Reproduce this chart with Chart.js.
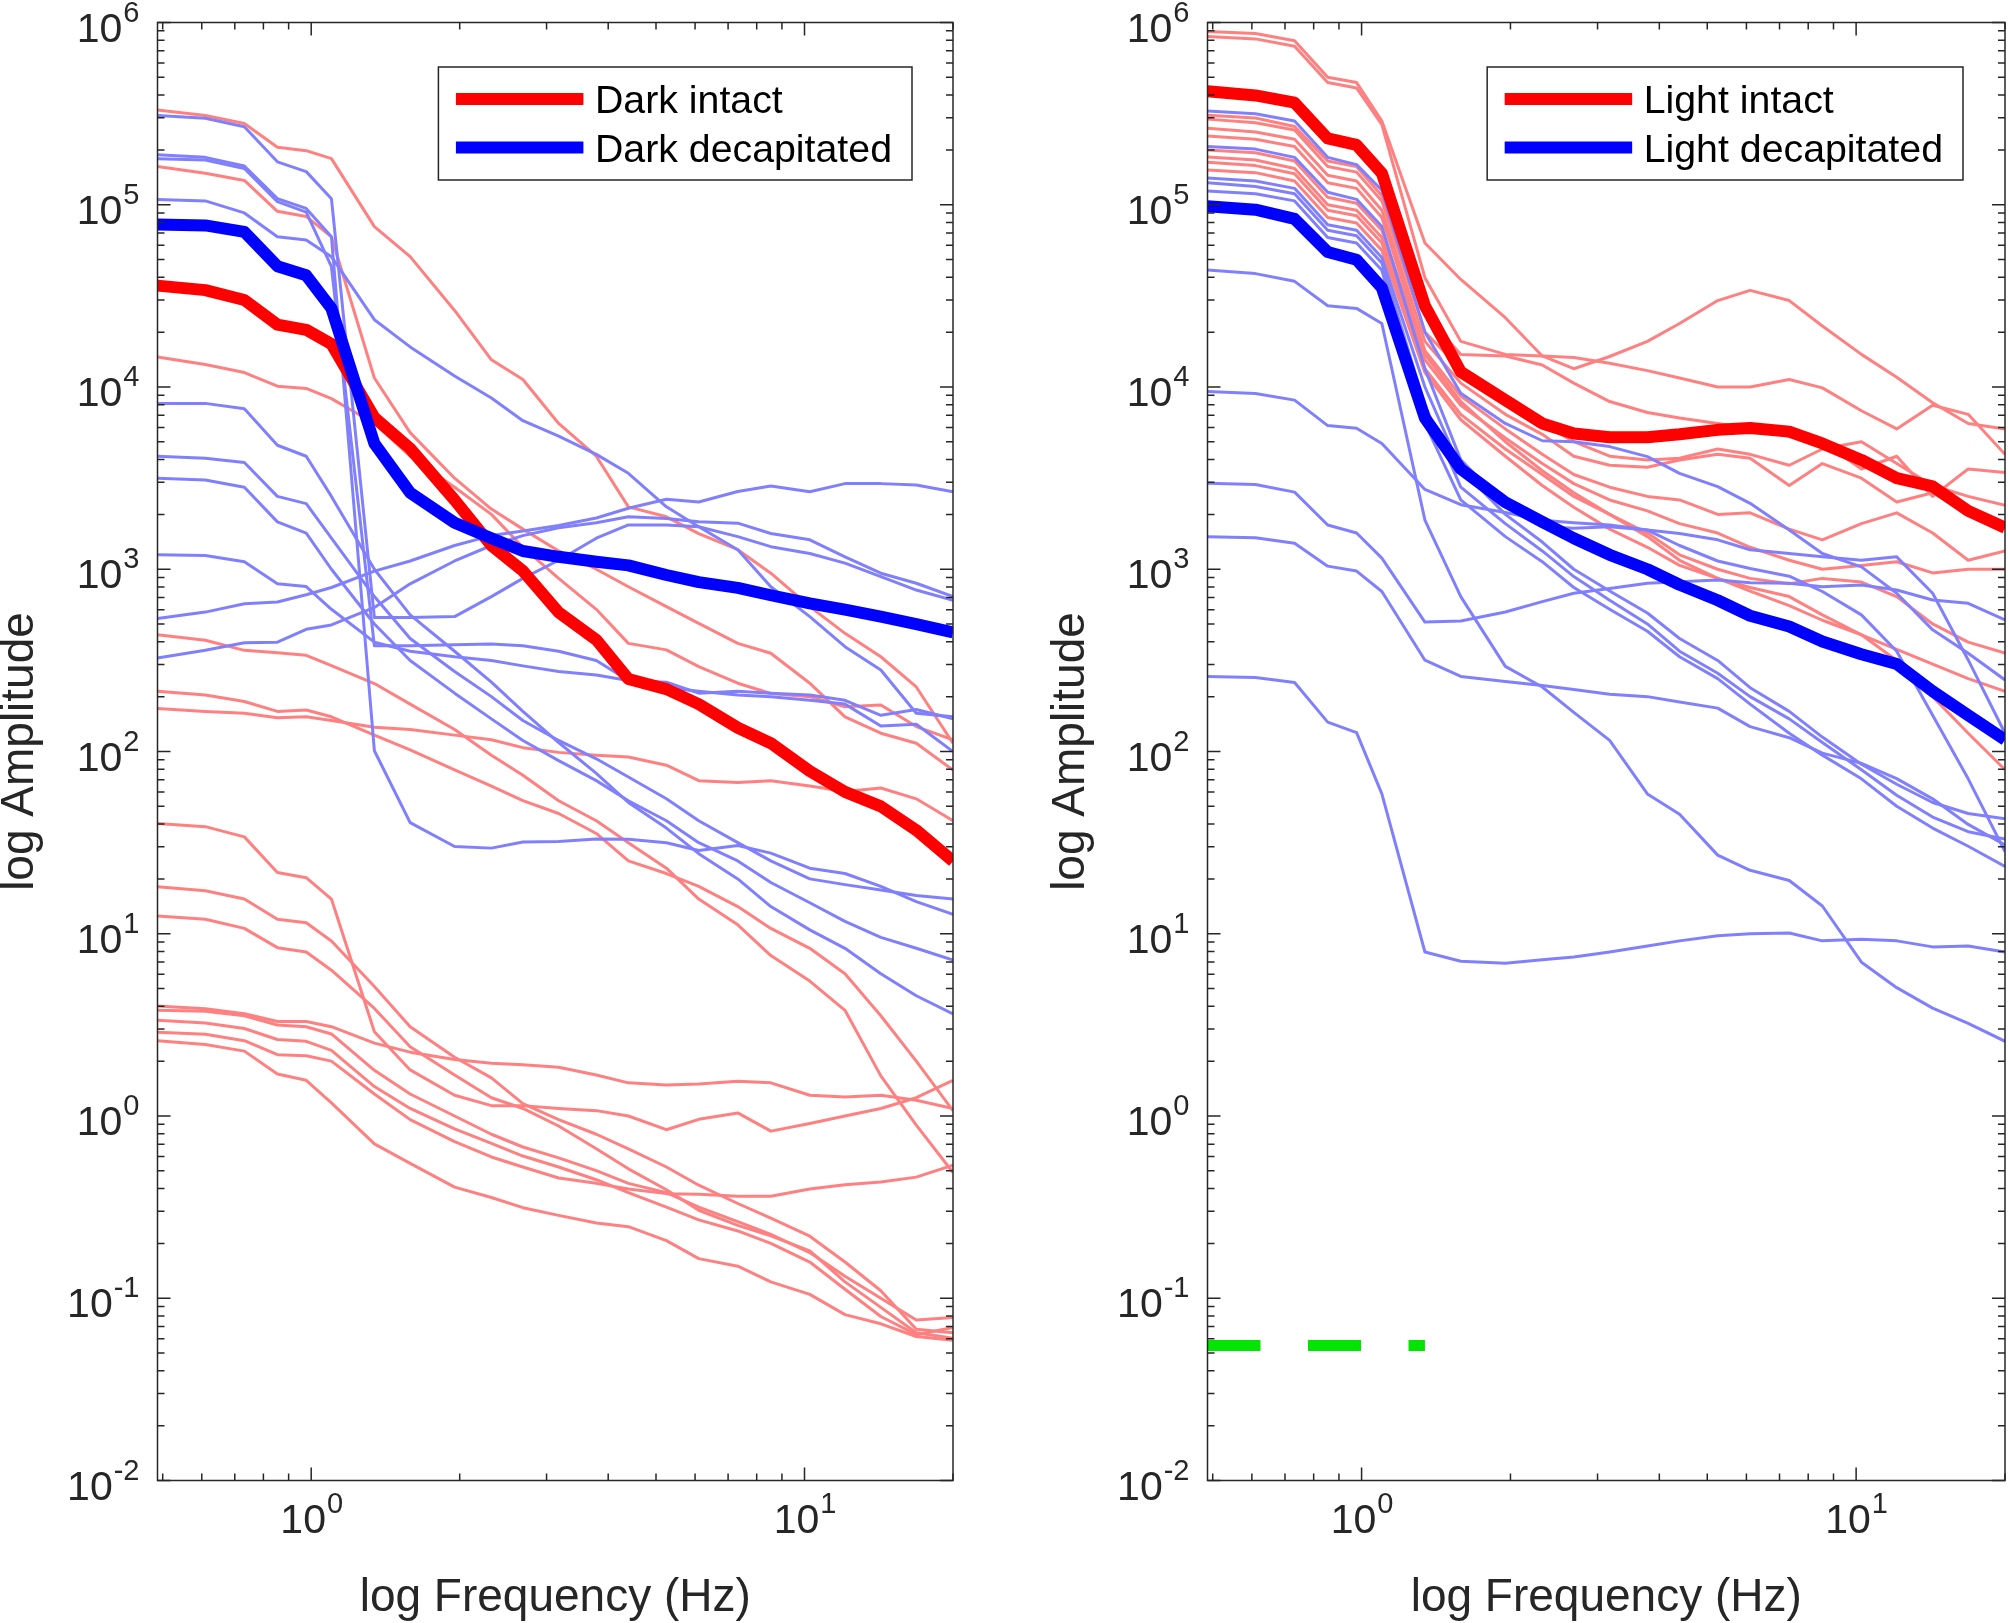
<!DOCTYPE html>
<html>
<head>
<meta charset="utf-8">
<title>Amplitude spectra, dark vs light</title>
<script src="https://cdn.jsdelivr.net/npm/chart.js@4.4.1/dist/chart.umd.min.js"></script>
<style>
  html, body { margin: 0; padding: 0; background: #fff; }
  #wrap { position: relative; width: 2008px; height: 1623px; overflow: hidden; }
  canvas { position: absolute; top: 0; }
  #darkChart { left: -10px; }
  #lightChart { left: 1041px; }
</style>
</head>
<body>
<div id="wrap">
  <canvas id="darkChart" width="1014" height="1623"></canvas>
  <canvas id="lightChart" width="967" height="1623"></canvas>
</div>
<script>
"use strict";

// frequency bins (Hz), shared by every trace
const freqs = [0.488, 0.61, 0.732, 0.854, 0.977, 1.099, 1.343, 1.587, 1.953, 2.319, 2.686, 3.174, 3.784, 4.395, 5.249, 6.104, 7.324, 8.545, 10.25, 12.08, 14.28, 16.85, 20];

// tick values (labels are drawn as 10^n)
const xMajorTicks = [1, 10];
const yMajorTicks = [0.01, 0.1, 1, 10, 100, 1000, 10000, 100000, 1000000];
const minorSteps = [2, 3, 4, 5, 6, 7, 8, 9];

// ---- dark, means
const darkIntactMean = [36000, 34000, 30000, 22000, 20600, 17200, 6800, 4600, 2400, 1350, 980, 580, 410, 250, 220, 182, 135, 111, 78, 60, 50, 37, 25];
const darkDecapMean = [78000, 77000, 71000, 46000, 41000, 27000, 4900, 2630, 1800, 1480, 1260, 1170, 1100, 1050, 930, 850, 790, 720, 650, 600, 550, 500, 450];

// ---- dark intact, single animals
const darkIntact01 = [331000, 309000, 279000, 207000, 198000, 179000, 75900, 51900, 26300, 14100, 11000, 6310, 4170, 2200, 1940, 1570, 1280, 951, 624, 445, 331, 226, 111];
const darkIntact02 = [162000, 149000, 136000, 92000, 86300, 66700, 11200, 5620, 3160, 2140, 1660, 1260, 1000, 802, 624, 505, 392, 346, 237, 155, 126, 111, 79];
const darkIntact03 = [14600, 13300, 12000, 10100, 9820, 8630, 6310, 4170, 2820, 2000, 1320, 891, 603, 392, 361, 292, 237, 208, 200, 176, 180, 137, 116];
const darkIntact04 = [437, 408, 359, 348, 337, 296, 236, 182, 132, 95.5, 74.1, 53.7, 41.7, 31.6, 22.9, 15.5, 11.2, 7.59, 5.5, 3.8, 1.66, 0.891, 0.49];
const darkIntact05 = [214, 204, 188, 166, 169, 155, 123, 102, 79.4, 64.6, 53.7, 45.7, 35.5, 25.1, 21.4, 18.2, 14.1, 10.7, 8.32, 6.03, 3.55, 2.0, 1.07];
const darkIntact06 = [172, 166, 162, 153, 155, 148, 136, 132, 123, 116, 105, 98.9, 95.5, 93.3, 84.1, 69.2, 67.6, 69.2, 64.6, 60.3, 63.1, 55.0, 41.7];
const darkIntact07 = [40.3, 38.7, 34.0, 21.7, 20.3, 15.5, 2.9, 1.79, 1.3, 1.14, 1.14, 1.1, 1.07, 1.0, 0.841, 0.959, 1.04, 0.826, 0.91, 1.0, 1.1, 1.26, 1.57];
const darkIntact08 = [18.1, 17.2, 15.5, 12.0, 11.5, 9.12, 5.13, 3.09, 2.1, 1.62, 1.17, 0.955, 0.794, 0.661, 0.525, 0.417, 0.331, 0.275, 0.219, 0.158, 0.11, 0.0676, 0.0646];
const darkIntact09 = [12.5, 12.0, 10.7, 8.39, 7.94, 6.31, 3.89, 2.4, 1.68, 1.26, 1.1, 0.881, 0.661, 0.513, 0.394, 0.304, 0.251, 0.22, 0.182, 0.123, 0.0891, 0.0646, 0.0603];
const darkIntact10 = [4.01, 3.88, 3.64, 3.3, 3.3, 3.09, 2.51, 2.24, 2.04, 1.95, 1.91, 1.85, 1.68, 1.52, 1.48, 1.5, 1.55, 1.52, 1.3, 1.27, 1.3, 1.22, 1.1];
const darkIntact11 = [3.8, 3.76, 3.55, 3.16, 3.09, 2.82, 1.78, 1.32, 1.0, 0.794, 0.676, 0.589, 0.501, 0.427, 0.38, 0.316, 0.263, 0.224, 0.178, 0.132, 0.1, 0.0759, 0.0785];
const darkIntact12 = [3.35, 3.24, 3.02, 2.63, 2.57, 2.29, 1.45, 1.1, 0.851, 0.708, 0.603, 0.525, 0.447, 0.38, 0.316, 0.269, 0.234, 0.2, 0.158, 0.112, 0.0794, 0.0631, 0.0692];
const darkIntact13 = [2.88, 2.81, 2.59, 2.17, 2.14, 2.0, 1.32, 0.955, 0.724, 0.596, 0.525, 0.457, 0.427, 0.398, 0.375, 0.372, 0.363, 0.363, 0.398, 0.419, 0.434, 0.462, 0.537];
const darkIntact14 = [2.59, 2.47, 2.27, 1.7, 1.57, 1.18, 0.703, 0.55, 0.407, 0.357, 0.314, 0.285, 0.259, 0.247, 0.207, 0.165, 0.15, 0.123, 0.105, 0.0813, 0.0724, 0.0617, 0.0589];

// ---- dark decapitated, single animals
const darkDecap01 = [309000, 298000, 268000, 172000, 152000, 108000, 543, 543, 550, 708, 891, 1120, 1480, 1750, 1750, 1710, 1510, 1330, 1220, 1080, 910, 769, 676];
const darkDecap02 = [188000, 182000, 163000, 108000, 95500, 66800, 101, 40.7, 30.1, 29.5, 31.9, 32.1, 33.1, 33.0, 31.6, 28.6, 30.5, 27.7, 22.9, 21.4, 18.2, 15.0, 12.8];
const darkDecap03 = [179000, 176000, 158000, 104000, 91200, 45700, 380, 380, 385, 389, 380, 355, 316, 245, 240, 209, 214, 209, 204, 191, 158, 170, 151];
const darkDecap04 = [107000, 105000, 90200, 66700, 64000, 51900, 23400, 16600, 11500, 8710, 6530, 5370, 4270, 3360, 2200, 1710, 1280, 802, 550, 376, 280, 162, 155];
const darkDecap05 = [8130, 8130, 7590, 4790, 4170, 2510, 1000, 562, 355, 240, 166, 112, 75.9, 52.5, 38.0, 27.5, 20.0, 14.1, 10.5, 8.32, 6.03, 4.57, 3.63];
const darkDecap06 = [4170, 4070, 3850, 2510, 2290, 1480, 708, 417, 275, 200, 148, 115, 91.2, 72.4, 55.0, 41.7, 31.6, 25.1, 20.0, 18.6, 17.4, 16.2, 15.5];
const darkDecap07 = [3160, 3090, 2820, 1820, 1580, 1000, 501, 316, 209, 151, 115, 89.1, 69.2, 53.7, 41.7, 31.6, 25.1, 19.1, 14.8, 11.7, 9.55, 8.32, 7.16];
const darkDecap08 = [1200, 1190, 1100, 832, 804, 603, 398, 355, 331, 316, 295, 275, 263, 245, 224, 214, 204, 200, 191, 182, 138, 141, 100];
const darkDecap09 = [537, 582, 646, 661, 724, 794, 977, 1110, 1350, 1530, 1620, 1740, 1910, 2160, 2420, 2340, 2670, 2860, 2660, 2950, 2950, 2900, 2660];
const darkDecap10 = [326, 359, 395, 398, 468, 495, 617, 832, 1110, 1350, 1530, 1690, 1800, 1940, 1900, 1820, 1790, 1570, 1450, 1170, 951, 838, 708];

// ---- light, means
const lightIntactMean = [419000, 398000, 363000, 231000, 213000, 149000, 27900, 12100, 8470, 6310, 5560, 5300, 5300, 5500, 5820, 5960, 5690, 4900, 3980, 3160, 2850, 2090, 1690];
const lightDecapMean = [98200, 94000, 83600, 55000, 49900, 35000, 6760, 3550, 2330, 1820, 1480, 1200, 1000, 822, 676, 556, 485, 401, 342, 302, 214, 158, 116];

// ---- light intact, single animals
const lightIntact01 = [893000, 871000, 794000, 501000, 468000, 288000, 61700, 38900, 24000, 14800, 12600, 14700, 17800, 22300, 29800, 33900, 29800, 21600, 15100, 11300, 8200, 6310, 5890];
const lightIntact02 = [838000, 813000, 741000, 468000, 437000, 275000, 39800, 17800, 15100, 14800, 14500, 13500, 12300, 11200, 10000, 10000, 11000, 9890, 7410, 5890, 7940, 7080, 4270];
const lightIntact03 = [310000, 299000, 269000, 174000, 162000, 112000, 25100, 15100, 14800, 13200, 10500, 8320, 7240, 6760, 6310, 5890, 5370, 5010, 3550, 4170, 2510, 3550, 3390];
const lightIntact04 = [295000, 282000, 257000, 162000, 151000, 105000, 20000, 12600, 8320, 6310, 5010, 4170, 3980, 4070, 4570, 4270, 3720, 4570, 5010, 3800, 2880, 2510, 2240];
const lightIntact05 = [263000, 251000, 229000, 145000, 135000, 93300, 17800, 10500, 7080, 5500, 4170, 3720, 3630, 3980, 4270, 4070, 2880, 3800, 3160, 2340, 2630, 2000, 1760];
const lightIntact06 = [238000, 229000, 209000, 132000, 123000, 85100, 15800, 8910, 5890, 4270, 3310, 2820, 2510, 2400, 2000, 2040, 1660, 1450, 1780, 2040, 1580, 1120, 1260];
const lightIntact07 = [183000, 176000, 158000, 100000, 93300, 66100, 14100, 7940, 5250, 3800, 2950, 2400, 2090, 1780, 1580, 1320, 1120, 1000, 1050, 1100, 955, 1000, 1000];
const lightIntact08 = [171000, 164000, 148000, 93300, 87100, 61700, 12600, 7080, 4570, 3310, 2510, 2000, 1580, 1200, 1000, 891, 832, 891, 851, 708, 501, 398, 347];
const lightIntact09 = [200000, 193000, 174000, 110000, 102000, 72400, 15100, 8320, 5010, 3470, 2630, 2000, 1510, 1120, 891, 759, 631, 525, 437, 363, 302, 251, 214];
const lightIntact10 = [155000, 150000, 135000, 85100, 79400, 56200, 12000, 6610, 4170, 2880, 2190, 1660, 1320, 1050, 891, 794, 708, 562, 437, 316, 200, 126, 79.4];

// ---- light decapitated, single animals
const lightDecap01 = [327000, 316000, 288000, 182000, 166000, 120000, 20000, 9230, 6310, 5070, 5010, 4710, 4150, 3360, 2840, 2300, 1640, 1220, 1030, 738, 465, 346, 247];
const lightDecap02 = [209000, 202000, 182000, 117000, 107000, 75900, 12600, 3980, 2240, 1710, 1680, 1710, 1640, 1570, 1450, 1280, 1220, 1170, 1120, 1170, 738, 318, 126];
const lightDecap03 = [140000, 135000, 123000, 77600, 72400, 51300, 10000, 3550, 2000, 1410, 1000, 759, 575, 417, 316, 224, 166, 120, 85.1, 66.1, 52.5, 45.7, 42.7];
const lightDecap04 = [132000, 126000, 115000, 72400, 67600, 47900, 7940, 2820, 1780, 1260, 912, 676, 501, 355, 269, 200, 151, 112, 79.4, 57.5, 43.7, 36.3, 33.1];
const lightDecap05 = [119000, 115000, 105000, 66100, 61700, 43700, 6310, 2400, 1510, 1100, 794, 603, 457, 331, 251, 182, 126, 95.5, 70.8, 50.1, 38.0, 30.2, 23.4];
const lightDecap06 = [43900, 41900, 38000, 27900, 27000, 22300, 1860, 708, 293, 226, 164, 115, 58.5, 45.3, 27.0, 22.3, 19.6, 14.2, 6.98, 5.06, 3.91, 3.22, 2.57];
const lightDecap07 = [9440, 9200, 8470, 6140, 5940, 4900, 2740, 2260, 2050, 1860, 1800, 1750, 1640, 1350, 1110, 1010, 916, 755, 562, 355, 158, 70.8, 28.2];
const lightDecap08 = [2960, 2920, 2650, 1750, 1580, 1150, 513, 520, 583, 664, 738, 785, 838, 855, 873, 843, 838, 802, 820, 769, 678, 650, 527];
const lightDecap09 = [1510, 1490, 1390, 1040, 977, 755, 317, 258, 242, 230, 219, 206, 200, 187, 173, 137, 119, 98.0, 86.1, 71.0, 55.0, 39.8, 30.7];
const lightDecap10 = [258, 255, 239, 145, 127, 58.5, 7.94, 7.06, 6.89, 7.21, 7.45, 7.94, 8.57, 9.14, 9.75, 10.0, 10.1, 9.14, 9.33, 9.14, 8.47, 8.57, 7.94];

// green significance bar (light panel)
const sigFreq = [0.488, 1.343];
const sigLevel = [0.055, 0.055];

const fontFamily = '"Liberation Sans", Arial, Helvetica, sans-serif';
const ink = '#262626';
const red = '#ff0000';
const blue = '#0000ff';
const paleRed = 'rgb(255,128,128)';
const paleBlue = 'rgb(128,128,255)';
const green = '#00e600';

function trace(values, color, width, order, label) {
    return {
        label: label || '',
        inLegend: !!label,
        data: values.map((v, i) => ({ x: freqs[i], y: v })),
        borderColor: color,
        backgroundColor: color,
        borderWidth: width,
        borderJoinStyle: 'round',
        pointRadius: 0,
        pointHoverRadius: 0,
        tension: 0,
        fill: false,
        clip: 0,
        order: order
    };
}

// 10 with a raised exponent, like the matlab tick labels
function drawPower(ctx, value, x, baseline, align) {
    const exp = String(Math.round(Math.log10(value)));
    ctx.font = '41px ' + fontFamily;
    const wBase = ctx.measureText('10').width;
    ctx.font = '29px ' + fontFamily;
    const wExp = ctx.measureText(exp).width;
    const x0 = align === 'right' ? x - wBase - wExp : x - (wBase + wExp) / 2;
    ctx.textAlign = 'left';
    ctx.textBaseline = 'alphabetic';
    ctx.font = '41px ' + fontFamily;
    ctx.fillText('10', x0, baseline);
    ctx.font = '29px ' + fontFamily;
    ctx.fillText(exp, x0 + wBase + 1, baseline - 20);
}

const framePlugin = {
    id: 'matlabFrame',
    afterDatasetsDraw(chart, args, opts) {
        const { ctx, chartArea: a, scales } = chart;
        const xs = scales.x, ys = scales.y;
        ctx.save();
        ctx.strokeStyle = ink;
        ctx.fillStyle = ink;
        ctx.lineWidth = 1.5;

        // box
        ctx.strokeRect(a.left, a.top, a.right - a.left, a.bottom - a.top);

        // inward ticks on all four sides
        const major = 13, minor = 7;
        ctx.beginPath();
        const xTick = (v, len) => {
            const px = xs.getPixelForValue(v);
            if (px < a.left - 0.5 || px > a.right + 0.5) return;
            ctx.moveTo(px, a.bottom); ctx.lineTo(px, a.bottom - len);
            ctx.moveTo(px, a.top); ctx.lineTo(px, a.top + len);
        };
        const yTick = (v, len) => {
            const py = ys.getPixelForValue(v);
            if (py < a.top - 0.5 || py > a.bottom + 0.5) return;
            ctx.moveTo(a.left, py); ctx.lineTo(a.left + len, py);
            ctx.moveTo(a.right, py); ctx.lineTo(a.right - len, py);
        };
        [0.1, 1, 10].forEach(d => {
            xTick(d, xMajorTicks.includes(d) ? major : minor);
            minorSteps.forEach(m => xTick(m * d, minor));
        });
        yMajorTicks.forEach(d => {
            yTick(d, major);
            if (d < 1000000) minorSteps.forEach(m => yTick(m * d, minor));
        });
        ctx.stroke();

        // tick labels
        xMajorTicks.forEach(v => drawPower(ctx, v, xs.getPixelForValue(v), a.bottom + 52, 'center'));
        yMajorTicks.forEach(v => drawPower(ctx, v, a.left - 19, ys.getPixelForValue(v) + 19, 'right'));

        // legend box, top right inside the axes
        const entries = chart.data.datasets.filter(d => d.inLegend);
        ctx.font = '39.3px ' + fontFamily;
        const textW = Math.max(...entries.map(d => ctx.measureText(d.label).width));
        const padL = 17.5, sample = 127.5, gap = 11.5, padR = 20, rowH = 48.6;
        const boxW = padL + sample + gap + textW + padR;
        const boxH = 113;
        const bx = a.right - opts.legendRight - boxW;
        const by = opts.legendTop;
        ctx.fillStyle = '#ffffff';
        ctx.fillRect(bx, by, boxW, boxH);
        ctx.strokeRect(bx, by, boxW, boxH);
        entries.forEach((d, i) => {
            const cy = by + 32 + i * rowH;
            ctx.strokeStyle = d.borderColor;
            ctx.lineWidth = d.borderWidth;
            ctx.beginPath();
            ctx.moveTo(bx + padL, cy);
            ctx.lineTo(bx + padL + sample, cy);
            ctx.stroke();
            ctx.fillStyle = '#000000';
            ctx.textAlign = 'left';
            ctx.textBaseline = 'alphabetic';
            ctx.fillText(d.label, bx + padL + sample + gap, cy + 14);
        });
        ctx.restore();
    }
};

function makePanel(canvasId, datasets, yAxisWidth, padRight, legendRight) {
    return new Chart(document.getElementById(canvasId), {
        type: 'line',
        data: { datasets: datasets },
        options: {
            responsive: false,
            animation: false,
            devicePixelRatio: 1,
            events: [],
            layout: { padding: { left: 0, right: padRight, top: 22.5, bottom: 0 } },
            plugins: {
                legend: { display: false },
                tooltip: { enabled: false },
                matlabFrame: { legendRight: legendRight, legendTop: 67 }
            },
            scales: {
                x: {
                    type: 'logarithmic',
                    min: 0.488,
                    max: 20,
                    grid: { display: false },
                    border: { display: false },
                    ticks: { display: false },
                    title: {
                        display: true,
                        text: 'log Frequency (Hz)',
                        color: ink,
                        font: { family: fontFamily, size: 46, lineHeight: 1 },
                        padding: { top: 0, bottom: 1.5 }
                    },
                    afterFit: s => { s.height = 142.5; }
                },
                y: {
                    type: 'logarithmic',
                    min: 0.01,
                    max: 1000000,
                    grid: { display: false },
                    border: { display: false },
                    ticks: { display: false },
                    title: {
                        display: true,
                        text: 'log Amplitude',
                        color: ink,
                        font: { family: fontFamily, size: 46, lineHeight: 1 },
                        padding: { top: 7.5, bottom: 0 }
                    },
                    afterFit: s => { s.width = yAxisWidth; }
                }
            }
        },
        plugins: [framePlugin]
    });
}

// dark panel: means on top, legend lists intact first
const darkSets = [
    trace(darkIntactMean, red, 12, 1, 'Dark intact'),
    trace(darkDecapMean, blue, 12, 0, 'Dark decapitated')
];
[darkDecap01, darkDecap02, darkDecap03, darkDecap04, darkDecap05, darkDecap06, darkDecap07, darkDecap08, darkDecap09, darkDecap10]
    .forEach(v => darkSets.push(trace(v, paleBlue, 3, 2)));
[darkIntact01, darkIntact02, darkIntact03, darkIntact04, darkIntact05, darkIntact06, darkIntact07, darkIntact08, darkIntact09, darkIntact10, darkIntact11, darkIntact12, darkIntact13, darkIntact14]
    .forEach(v => darkSets.push(trace(v, paleRed, 3, 3)));

// light panel
const lightSets = [
    trace(lightIntactMean, red, 12, 1, 'Light intact'),
    trace(lightDecapMean, blue, 12, 0, 'Light decapitated'),
    {
        label: '',
        data: sigFreq.map((f, i) => ({ x: f, y: sigLevel[i] })),
        borderColor: green,
        borderWidth: 11,
        borderDash: [53, 47.5],
        borderCapStyle: 'butt',
        pointRadius: 0,
        pointHoverRadius: 0,
        fill: false,
        clip: 0,
        order: 0
    }
];
[lightDecap01, lightDecap02, lightDecap03, lightDecap04, lightDecap05, lightDecap06, lightDecap07, lightDecap08, lightDecap09, lightDecap10]
    .forEach(v => lightSets.push(trace(v, paleBlue, 3, 2)));
[lightIntact01, lightIntact02, lightIntact03, lightIntact04, lightIntact05, lightIntact06, lightIntact07, lightIntact08, lightIntact09, lightIntact10]
    .forEach(v => lightSets.push(trace(v, paleRed, 3, 3)));

makePanel('darkChart', darkSets, 167.5, 51, 41);
makePanel('lightChart', lightSets, 166.5, 3, 42);
</script>
</body>
</html>
